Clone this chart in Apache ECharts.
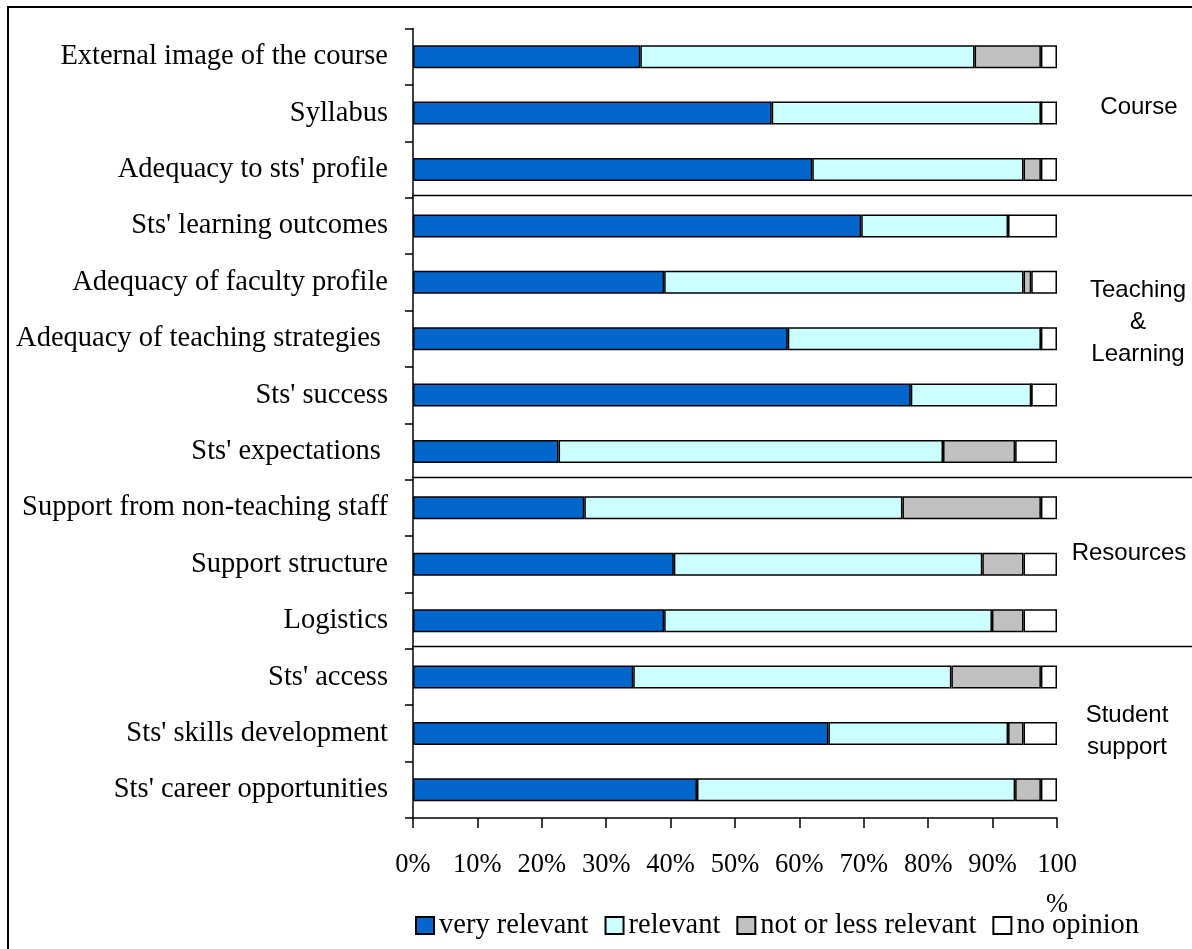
<!DOCTYPE html>
<html><head><meta charset="utf-8">
<script src="https://cdn.jsdelivr.net/npm/echarts@6/dist/echarts.min.js"></script>
<style>html,body{margin:0;padding:0;background:#fff}#c{width:1192px;height:949px}</style>
</head><body><div id="c"></div><script>
const categories = [
  "External image of the course",
  "Syllabus",
  "Adequacy to sts' profile",
  "Sts' learning outcomes",
  "Adequacy of faculty profile",
  "Adequacy of teaching strategies ",
  "Sts' success",
  "Sts' expectations ",
  "Support from non-teaching staff",
  "Support structure",
  "Logistics",
  "Sts' access",
  "Sts' skills development",
  "Sts' career opportunities"
];
const seriesNames = ["very relevant", "relevant", "not or less relevant", "no opinion"];
const veryRelevant = [35.3, 55.7, 62.0, 69.6, 39.0, 58.2, 77.3, 22.6, 26.6, 40.5, 39.0, 34.2, 64.5, 44.1];
const relevant     = [51.9, 41.8, 32.8, 22.8, 55.8, 39.3, 18.7, 59.7, 49.4, 47.9, 50.9, 49.4, 27.9, 49.4];
const notRelevant  = [10.3, 0, 2.7, 0, 1.2, 0, 0, 11.2, 21.5, 6.4, 4.9, 13.9, 2.4, 4.0];
const noOpinion    = [2.5, 2.5, 2.5, 7.6, 4.0, 2.5, 4.0, 6.5, 2.5, 5.2, 5.2, 2.5, 5.2, 2.5];
const xTicks = [0, 10, 20, 30, 40, 50, 60, 70, 80, 90, 100];
// group separators: after these category indices
const separatorsAfter = [2, 7, 10];
const groupLabels = [
  { text: "Course", x: 1139, y: 107 },
  { text: "Teaching\n&\nLearning", x: 1138, y: 322 },
  { text: "Resources", x: 1129, y: 553 },
  { text: "Student\nsupport", x: 1127, y: 731 }
];

const colors = ["#0066CC", "#CCFFFF", "#C0C0C0", "#FFFFFF"];
const serif = "'Liberation Serif', 'Times New Roman', serif";
const sans = "'Liberation Sans', Arial, sans-serif";

const chart = echarts.init(document.getElementById('c'), null, { renderer: 'canvas' });
const dataSets = [veryRelevant, relevant, notRelevant, noOpinion];

const option = {
  animation: false,
  backgroundColor: '#fff',
  grid: { left: 413, right: 135, top: 28.5, bottom: 131, containLabel: false },
  legend: {
    data: seriesNames,
    left: 410, top: 906,
    icon: 'rect', itemWidth: 18, itemHeight: 17, itemGap: 16,
    textStyle: { fontFamily: serif, fontSize: 28.5, color: '#000', padding: [0, 0, 0, 0] },
    selectedMode: false
  },
  xAxis: {
    type: 'value', min: xTicks[0], max: xTicks[xTicks.length - 1], interval: 10,
    axisLine: { show: true, lineStyle: { color: '#000', width: 1.5 } },
    axisTick: { show: true, length: 10, lineStyle: { color: '#000', width: 1.5 } },
    splitLine: { show: false },
    axisLabel: {
      margin: 27, color: '#000', fontFamily: serif, fontSize: 26.5, lineHeight: 40,
      formatter: v => (v === 100 ? '100\n%' : v + '%')
    }
  },
  yAxis: {
    type: 'category', data: categories, inverse: true,
    axisLine: { show: true, lineStyle: { color: '#000', width: 1.5 } },
    axisTick: { show: true, length: 8, lineStyle: { color: '#000', width: 1.5 } },
    axisLabel: { margin: 25, color: '#000', fontFamily: serif, fontSize: 28.5 }
  },
  series: seriesNames.map((name, i) => ({
    name, type: 'bar', stack: 'total', barWidth: 23,
    data: dataSets[i],
    itemStyle: { color: colors[i], borderColor: '#000', borderWidth: 1.5 },
    emphasis: { disabled: true }
  }))
};
chart.setOption(option);

// separators and group labels
const graphics = [];
separatorsAfter.forEach(idx => {
  const y1 = chart.convertToPixel({ yAxisIndex: 0 }, categories[idx]);
  const y2 = chart.convertToPixel({ yAxisIndex: 0 }, categories[idx + 1]);
  const x0 = chart.convertToPixel({ xAxisIndex: 0 }, 0);
  const y = Math.round((y1 + y2) / 2 - 3) + 0.5;
  graphics.push({
    type: 'line', shape: { x1: x0 - 1, y1: y, x2: 1192, y2: y },
    style: { stroke: '#000', lineWidth: 1.5 }, silent: true
  });
});
groupLabels.forEach(g => {
  graphics.push({
    type: 'text', x: g.x, y: g.y,
    style: { text: g.text, fill: '#000', font: '24px ' + sans, align: 'center', verticalAlign: 'middle', lineHeight: 32 },
    silent: true
  });
});
graphics.push({
  type: 'rect', shape: { x: 8, y: 7, width: 1300, height: 1000 },
  style: { fill: 'none', stroke: '#000', lineWidth: 2 }, silent: true
});
chart.setOption({ graphic: graphics });
</script></body></html>
